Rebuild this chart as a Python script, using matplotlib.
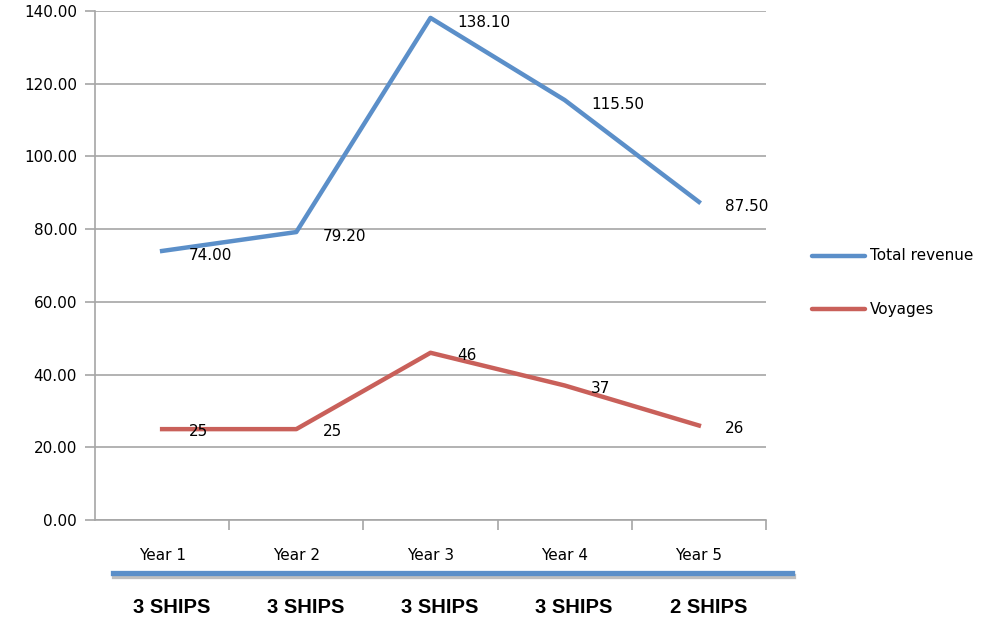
import matplotlib
matplotlib.use('Agg')
import matplotlib.pyplot as plt
import matplotlib.patheffects as pe
from matplotlib.lines import Line2D

categories = ['Year 1', 'Year 2', 'Year 3', 'Year 4', 'Year 5']
revenue = [74.0, 79.2, 138.1, 115.5, 87.5]
voyages = [25, 25, 46, 37, 26]
ships = [3, 3, 3, 3, 2]
y_ticks = [0, 20, 40, 60, 80, 100, 120, 140]
series_names = ['Total revenue', 'Voyages']

blue = '#5b8fc9'
red = '#c9605a'
grey = '#a6a6a6'

fig = plt.figure(figsize=(9.94, 6.21), dpi=100)
ax = fig.add_axes([0.0956, 0.1626, 0.675, 0.8197])

x = list(range(len(categories)))
ax.plot(x, revenue, color=blue, lw=3.2)
ax.plot(x, voyages, color=red, lw=3.2)

for i, v in enumerate(revenue):
    ax.annotate(f'{v:.2f}', (i, v), xytext=(19, -3), textcoords='offset points',
                ha='left', va='center', fontsize=11)
for i, v in enumerate(voyages):
    ax.annotate(f'{v}', (i, v), xytext=(19, -2), textcoords='offset points',
                ha='left', va='center', fontsize=11)

ax.set_xlim(-0.5, len(categories) - 0.5)
ax.set_ylim(0, 140)
ax.set_yticks(y_ticks)
ax.set_yticklabels([f'{t:.2f}' for t in y_ticks], fontsize=11)
ax.set_xticks(x)
ax.set_xticklabels(categories, fontsize=11)
ax.set_xticks([i + 0.5 for i in x], minor=True)
ax.tick_params(axis='x', which='major', length=0, pad=20)
ax.tick_params(axis='x', which='minor', length=7, width=1.2, color=grey)
ax.tick_params(axis='y', length=7, width=1.2, color=grey, pad=6)

ax.yaxis.grid(True, color=grey, lw=1.2)
ax.set_axisbelow(True)
for side in ['top', 'right']:
    ax.spines[side].set_visible(False)
for side in ['left', 'bottom']:
    ax.spines[side].set_color(grey)
    ax.spines[side].set_linewidth(1.2)

# legend drawn by hand, to the right of the plot
for name, color, y in zip(series_names, [blue, red], [0.5878, 0.5024]):
    fig.add_artist(Line2D([0.817, 0.870], [y, y], color=color, lw=3.2,
                          solid_capstyle='round'))
    fig.text(0.875, y, name, va='center', ha='left', fontsize=11)

# blue bar with ship counts under the axis
fig.add_artist(Line2D([0.1137, 0.7968], [0.0773, 0.0773], color=blue, lw=3.8,
                      path_effects=[pe.SimpleLineShadow(offset=(1, -2.5), alpha=0.25),
                                    pe.Normal()]))
for i, n in enumerate(ships):
    ax.annotate(f'{n} SHIPS', (i + 0.07, 0.021), xycoords=('data', 'figure fraction'),
                ha='center', va='center', fontsize=14.5, fontweight='bold',
                family='Liberation Sans', annotation_clip=False)

fig.savefig('out.png', dpi=100)
